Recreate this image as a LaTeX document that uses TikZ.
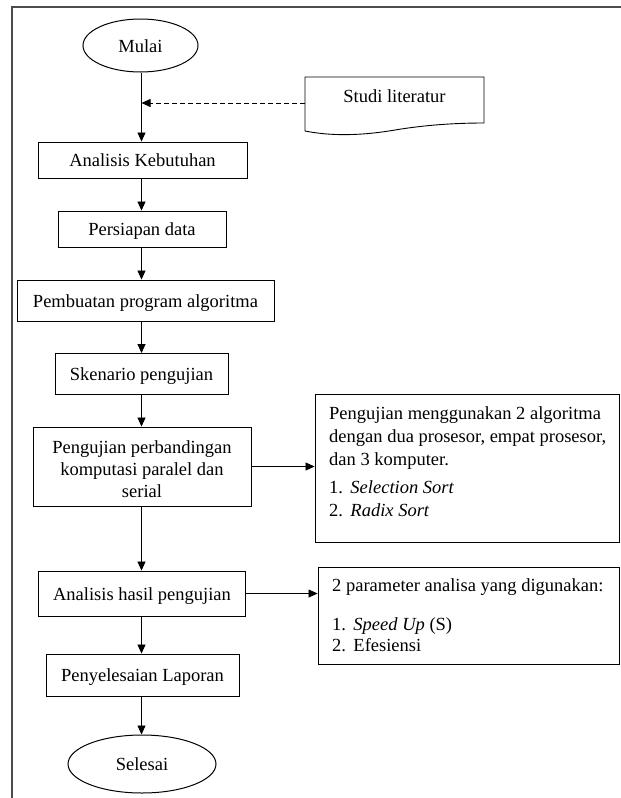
\documentclass[tikz,border=0pt]{standalone}
\usepackage{fontspec}
\setmainfont{Liberation Serif}
\usetikzlibrary{arrows.meta,shapes.geometric}
\begin{document}
\begin{tikzpicture}[x=1pt,y=-1pt,
  every node/.style={font=\fontsize{18.5}{22}\selectfont},
  box/.style={draw,line width=0.9pt,inner sep=0pt,text height=13pt,text depth=0pt},
  mlbox/.style={draw,line width=0.9pt,inner sep=0pt,align=center},
  term/.style={draw,ellipse,line width=1pt,inner sep=0pt,text height=13pt,text depth=0pt},
  infobox/.style={draw,line width=0.9pt,inner sep=0pt},
  infotext/.style={anchor=north west,inner sep=0pt,align=left},
  arr/.style={line width=0.7pt,-{Triangle[length=9pt,width=8pt]}},
  darr/.style={line width=0.7pt,dash pattern=on 5pt off 3pt,-{Triangle[length=9pt,width=8pt]}},
  frameline/.style={line width=1.6pt,black!70}]
\useasboundingbox (0,0) rectangle (621,798);
\draw[frameline] (12,798) -- (12,7) -- (621,7);
\coordinate (axis) at (141.5,0);
% main column
\node[term,minimum width=115pt,minimum height=53pt] (mulai) at (140.5,45.5) {Mulai};
\node[box,minimum width=209pt,minimum height=36pt] (ana) at (142.5,160) {Analisis Kebutuhan};
\node[box,minimum width=168pt,minimum height=36pt] (per) at (142,229) {Persiapan data};
\node[box,minimum width=257pt,minimum height=41pt] (pem) at (145.5,300.5) {Pembuatan program algoritma};
\node[box,minimum width=173pt,minimum height=41pt] (ske) at (141.5,374) {Skenario pengujian};
\node[mlbox,minimum width=218pt,minimum height=79pt] (peng) at (142,466.5) {\rule{0pt}{17.5pt}Pengujian perbandingan\\komputasi paralel dan\\serial};
\node[box,minimum width=207pt,minimum height=45pt] (has) at (142,593.5) {Analisis hasil pengujian};
\node[box,minimum width=193pt,minimum height=42pt] (lap) at (142.5,675) {Penyelesaian Laporan};
\node[term,minimum width=148pt,minimum height=58pt] (sel) at (142,764) {Selesai};
% studi literatur (document shape)
\coordinate (stl) at (305,77);
\coordinate (str) at (484,77);
\coordinate (sbr) at (484,123);
\coordinate (sbl) at (305,131);
\coordinate (sdl) at (305,103);
\draw[line width=0.9pt] (sbl) -- (stl) -- (str) -- (sbr)
  .. controls (455,123) and (425,125) .. (395,130)
  .. controls (360,136) and (330,136) .. (sbl);
\node[inner sep=0pt,text height=13pt,text depth=0pt] (studi) at (394.5,96) {Studi literatur};
% info boxes
\node[infobox,minimum width=304pt,minimum height=148pt] (b1) at (467,468) {};
\node[infotext,font=\fontsize{18.5}{23}\selectfont] (t1) at (329,406.5) {Pengujian menggunakan 2 algoritma\\
dengan dua prosesor, empat prosesor,\\
dan 3 komputer.\\[5pt]
\makebox[1.15em][l]{1.}\textit{Selection Sort}\\
\makebox[1.15em][l]{2.}\textit{Radix Sort}};
\node[infobox,minimum width=301pt,minimum height=97pt] (b2) at (468.5,615.5) {};
\node[infotext,font=\fontsize{18.5}{21}\selectfont] (t2) at (332,578.5) {2 parameter analisa yang digunakan:\\[18pt]
\makebox[1.15em][l]{1.}\textit{Speed Up} (S)\\
\makebox[1.15em][l]{2.}Efesiensi};
% connectors
\draw[arr] (mulai.south -| axis) -- (ana.north -| axis);
\draw[darr] (sdl) -- (sdl -| axis);
\draw[arr] (ana.south -| axis) -- (per.north -| axis);
\draw[arr] (per.south -| axis) -- (pem.north -| axis);
\draw[arr] (pem.south -| axis) -- (ske.north -| axis);
\draw[arr] (ske.south -| axis) -- (peng.north -| axis);
\draw[arr] (peng.south -| axis) -- (has.north -| axis);
\draw[arr] (has.south -| axis) -- (lap.north -| axis);
\draw[arr] (lap.south -| axis) -- (sel.north -| axis);
\draw[arr] (peng.east) -- (peng.east -| b1.west);
\draw[arr] (has.east) -- (has.east -| b2.west);
\end{tikzpicture}
\end{document}
